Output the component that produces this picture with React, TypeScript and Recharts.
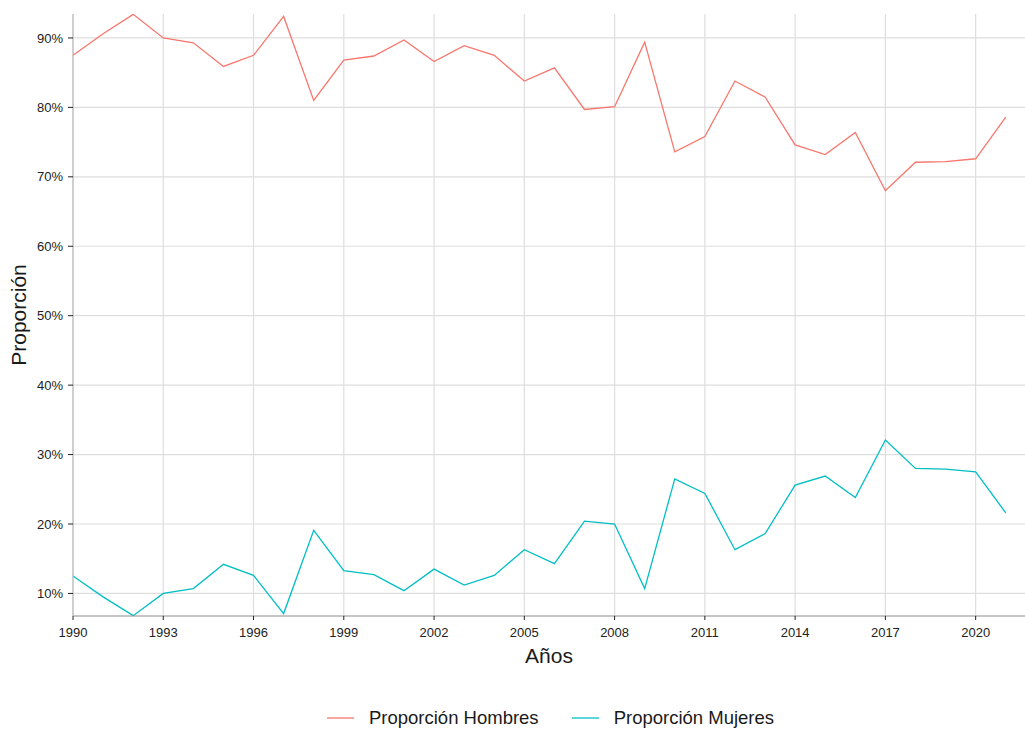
import React from "react";
import {
  LineChart,
  Line,
  XAxis,
  YAxis,
  CartesianGrid,
  Legend,
} from "recharts";

// Años (eje x)
const years = [
  1990, 1991, 1992, 1993, 1994, 1995, 1996, 1997, 1998, 1999, 2000, 2001,
  2002, 2003, 2004, 2005, 2006, 2007, 2008, 2009, 2010, 2011, 2012, 2013,
  2014, 2015, 2016, 2017, 2018, 2019, 2020, 2021,
];

// Proporción hombres (%)
const hombres = [
  87.5, 90.6, 93.4, 90.0, 89.3, 85.9, 87.5, 93.1, 81.0, 86.8, 87.4, 89.7,
  86.6, 88.9, 87.5, 83.8, 85.7, 79.7, 80.1, 89.4, 73.6, 75.8, 83.8, 81.5,
  74.6, 73.2, 76.4, 68.0, 72.1, 72.2, 72.6, 78.6,
];

// Proporción mujeres (%)
const mujeres = [
  12.5, 9.5, 6.8, 10.0, 10.7, 14.2, 12.6, 7.1, 19.1, 13.3, 12.7, 10.4,
  13.5, 11.2, 12.6, 16.3, 14.3, 20.4, 20.0, 10.7, 26.5, 24.4, 16.3, 18.6,
  25.6, 26.9, 23.8, 32.1, 28.0, 27.9, 27.5, 21.6,
];

const xTicks = [1990, 1993, 1996, 1999, 2002, 2005, 2008, 2011, 2014, 2017, 2020];
const yTicks = [10, 20, 30, 40, 50, 60, 70, 80, 90];

const data = years.map((year, i) => ({
  year,
  hombres: hombres[i],
  mujeres: mujeres[i],
}));

const FONT = "'Liberation Sans', Arial, sans-serif";
const X_DOMAIN: [number, number] = [1990, 2021.64];

const renderLegend = (props: any) => {
  const { payload } = props;
  return (
    <div
      style={{
        display: "flex",
        justifyContent: "center",
        alignItems: "center",
        height: 24,
        paddingLeft: 76,
        gap: 33,
        fontFamily: FONT,
        fontSize: 18.5,
        color: "#1a1a1a",
      }}
    >
      {payload.map((entry: any) => (
        <span key={entry.value} style={{ display: "flex", alignItems: "center" }}>
          <svg width={27} height={4}>
            <line x1={0} y1={2} x2={27} y2={2} stroke={entry.color} strokeWidth={1.3} />
          </svg>
          <span style={{ marginLeft: 15 }}>{entry.value}</span>
        </span>
      ))}
    </div>
  );
};

export default function App() {
  return (
    <div style={{ position: "absolute", left: 0, top: 0, background: "#fff" }}>
      <LineChart
        width={1025}
        height={729}
        data={data}
        margin={{ top: 14, right: 0, bottom: 0, left: 0 }}
        style={{ fontFamily: FONT }}
      >
        <CartesianGrid stroke="#DEDEDE" strokeWidth={1.2} horizontalValues={yTicks} verticalValues={xTicks} />
        <XAxis
          xAxisId="top"
          orientation="top"
          dataKey="year"
          type="number"
          domain={X_DOMAIN}
          allowDataOverflow
          height={0}
          tick={false}
          tickLine={false}
          axisLine={{ stroke: "#B3B3B3" }}
        />
        <XAxis
          dataKey="year"
          type="number"
          domain={X_DOMAIN}
          allowDataOverflow
          ticks={xTicks}
          height={113}
          tickSize={4}
          tickMargin={8}
          tick={{ fontSize: 13, fill: "#222222" }}
          tickLine={{ stroke: "#222222" }}
          axisLine={{ stroke: "#8C8C8C" }}
          label={{
            value: "Años",
            position: "insideTop",
            offset: 32,
            style: { fontSize: 21, fill: "#1a1a1a" },
          }}
        />
        <YAxis
          type="number"
          domain={[6.75, 93.45]}
          allowDataOverflow
          ticks={yTicks}
          width={73}
          tickSize={5}
          tickMargin={5}
          tickFormatter={(v: number) => `${v}%`}
          tick={{ fontSize: 13, fill: "#222222" }}
          tickLine={{ stroke: "#222222" }}
          axisLine={{ stroke: "#B3B3B3" }}
          label={{
            value: "Proporción",
            angle: -90,
            position: "insideLeft",
            offset: 19,
            style: { fontSize: 21, fill: "#1a1a1a", textAnchor: "middle" },
          }}
        />
        <Legend
          layout="horizontal"
          verticalAlign="middle"
          align="center"
          wrapperStyle={{ top: 706, left: 0, width: 1025 }}
          content={renderLegend}
        />
        <Line
          type="linear"
          dataKey="hombres"
          name="Proporción Hombres"
          stroke="#F8766D"
          strokeWidth={1.3}
          dot={false}
          activeDot={false}
          isAnimationActive={false}
        />
        <Line
          type="linear"
          dataKey="mujeres"
          name="Proporción Mujeres"
          stroke="#00BFC4"
          strokeWidth={1.3}
          dot={false}
          activeDot={false}
          isAnimationActive={false}
        />
      </LineChart>
    </div>
  );
}
